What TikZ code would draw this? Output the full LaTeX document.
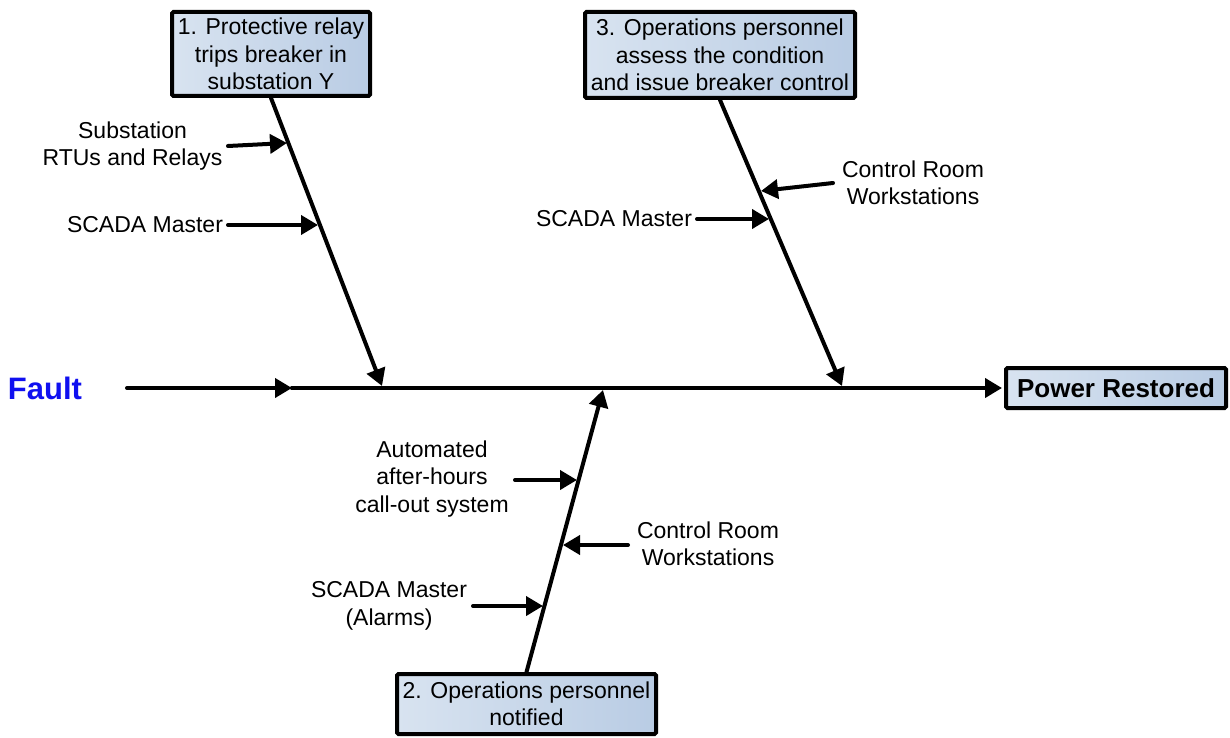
\documentclass[tikz,border=0pt]{standalone}
\usepackage{fontspec}
\setmainfont{Liberation Sans}
\usetikzlibrary{arrows.meta}
\definecolor{boxl}{HTML}{D8E3F0}
\definecolor{boxr}{HTML}{B9CCE4}
\definecolor{faultblue}{HTML}{1010F0}
\tikzset{
  causebox/.style={draw=black, line width=4pt, rounded corners=1.5pt,
    left color=boxl, right color=boxr, align=center, inner sep=0pt,
    font=\fontsize{23}{27.5}\selectfont},
  lbl/.style={align=center, inner sep=0pt, font=\fontsize{23}{27.5}\selectfont},
  bone/.style={line width=4pt, line cap=round, -{Triangle[length=17pt,width=19pt]}},
  plain/.style={line width=4pt, line cap=round},
}
\begin{document}
\begin{tikzpicture}[x=1pt,y=-1pt]
\useasboundingbox (0,0) rectangle (1230,738);

% boxes
\node[causebox, minimum width=198pt, minimum height=84pt] (b1) at (271,54)
  {1. Protective relay\\trips breaker in\\substation Y};
\node[causebox, minimum width=270pt, minimum height=86pt] (b3) at (720,55)
  {3. Operations personnel\\assess the condition\\and issue breaker control};
\node[causebox, minimum width=259pt, minimum height=60pt] (b2) at (526.5,704)
  {2. Operations personnel\\notified};
\node[causebox, minimum width=220pt, minimum height=40pt,
  font=\fontsize{26}{30}\selectfont\bfseries] (pr) at (1116,388) {Power Restored};

\node[inner sep=0pt, text=faultblue, font=\fontsize{31}{35}\selectfont\bfseries] (fault) at (45,388) {Fault};

% main spine
\coordinate (s0) at (127,388);
\coordinate (smid) at (292,388);
\draw[bone] (s0) -- (smid);
\draw[plain] (smid) -- ([xshift=-10pt]pr.west);
\draw[bone] (smid) -- ([xshift=-2pt]pr.west);

% bones
\coordinate (e1) at (382,386);
\coordinate (e3) at (842,386);
\coordinate (e2) at (603,390);
\draw[bone] (b1.south) -- (e1);
\draw[bone] (b3.south) -- (e3);
\draw[bone] (b2.north) -- (e2);

% labels
\node[lbl] (l1) at (132.5,146) {Substation\\RTUs and Relays};
\node[lbl] (l2) at (145,225) {SCADA Master};
\node[lbl] (l3) at (913,183) {Control Room\\Workstations};
\node[lbl] (l4) at (614,219) {SCADA Master};
\node[lbl] (l5) at (432,479) {Automated\\after-hours\\call-out system};
\node[lbl] (l6) at (708,544) {Control Room\\Workstations};
\node[lbl] (l7) at (389,606) {SCADA Master\\(Alarms)};

% sub-cause arrows
\coordinate (a1s) at (228,146); \coordinate (a1e) at (287,143);
\coordinate (a2s) at (228,225); \coordinate (a2e) at (318,225);
\coordinate (a3s) at (833,183); \coordinate (a3e) at (761,191);
\coordinate (a4s) at (697,219); \coordinate (a4e) at (769,219);
\coordinate (a5s) at (515,480); \coordinate (a5e) at (577,480);
\coordinate (a6s) at (628,545); \coordinate (a6e) at (563,545);
\coordinate (a7s) at (473,606); \coordinate (a7e) at (543,606);
\foreach \i in {1,...,7} \draw[bone] (a\i s) -- (a\i e);
\end{tikzpicture}
\end{document}
